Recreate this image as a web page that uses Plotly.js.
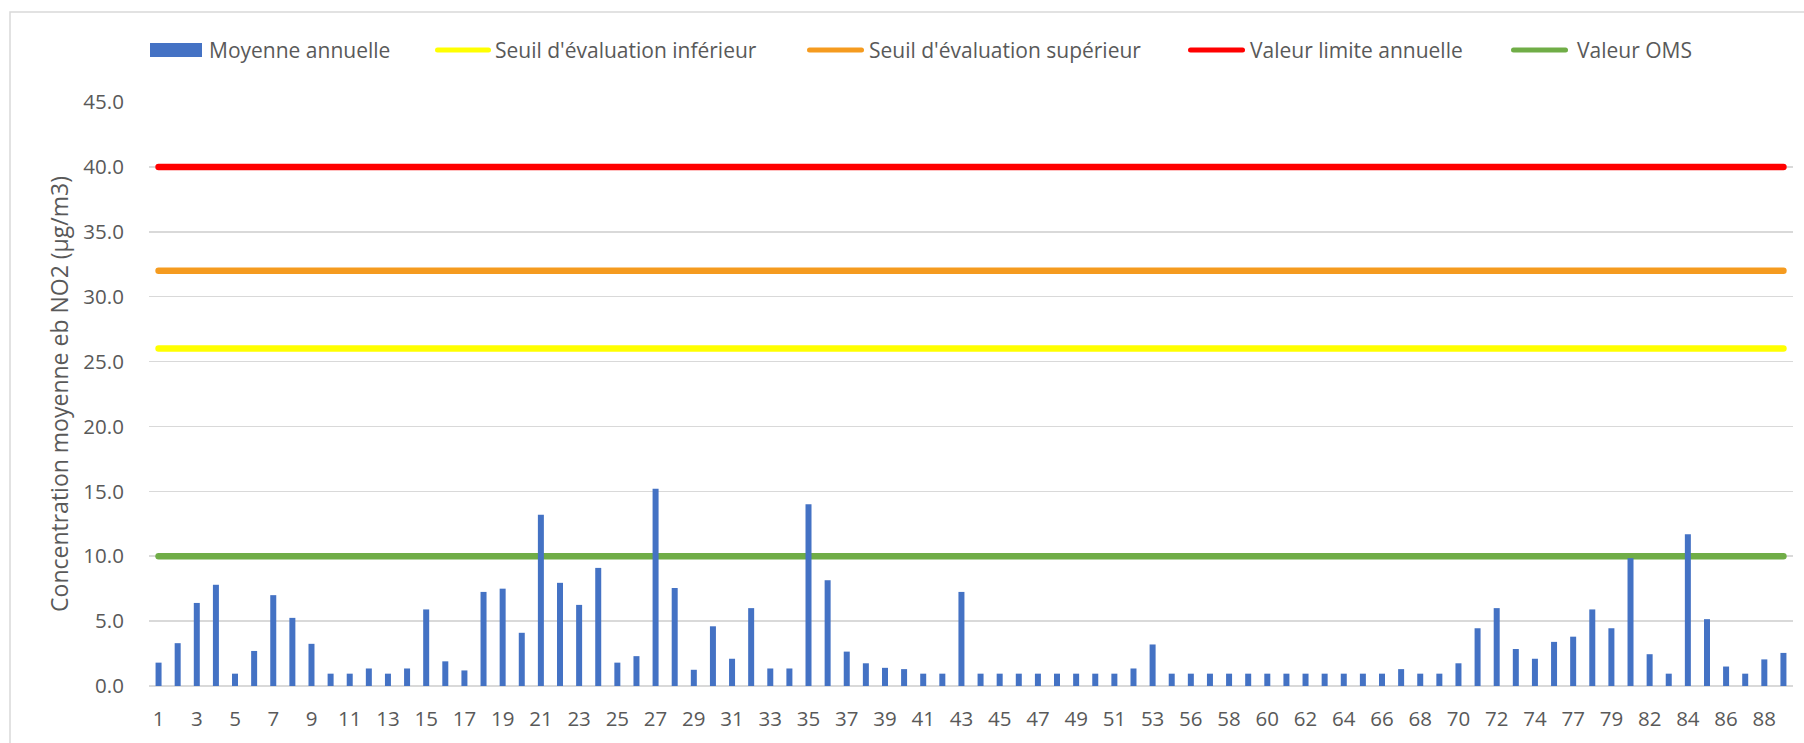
<!DOCTYPE html>
<html>
<head>
<meta charset="utf-8">
<script src="https://cdn.plot.ly/plotly-3.0.1.min.js"></script>
<style>
  html, body { margin: 0; padding: 0; background: #ffffff; }
  #chart { width: 1804px; height: 743px; }
  .js-line { stroke-linecap: round; }
  .shapelayer path { stroke-linecap: round; }
</style>
</head>
<body>
<div id="chart"></div>
<script>
// ---- Data ----
const categories = [
  '1','2','3','4','5','6','7','8','9','10','11','12','13','14','15','16','17','18','19','20',
  '21','22','23','24','25','26','27','28','29','30','31','32','33','34','35','36','37','38','39','40',
  '41','42','43','44','45','46','47','48','49','50','51','52','53','55','56','57','58','59','60','61',
  '62','63','64','65','66','67','68','69','70','71','72','73','74','76','77','78','79','81','82','83',
  '84','85','86','87','88','89'
];
const moyenneAnnuelle = [
  1.8, 3.3, 6.4, 7.8, 0.95, 2.7, 7.0, 5.25, 3.25, 0.95, 0.95, 1.35, 0.95, 1.35, 5.9, 1.9, 1.2, 7.25, 7.5, 4.1,
  13.2, 7.95, 6.25, 9.1, 1.8, 2.3, 15.2, 7.55, 1.25, 4.6, 2.1, 6.0, 1.35, 1.35, 14.0, 8.15, 2.65, 1.75, 1.4, 1.3,
  0.95, 0.95, 7.25, 0.95, 0.95, 0.95, 0.95, 0.95, 0.95, 0.95, 0.95, 1.35, 3.2, 0.95, 0.95, 0.95, 0.95, 0.95, 0.95, 0.95,
  0.95, 0.95, 0.95, 0.95, 0.95, 1.3, 0.95, 0.95, 1.75, 4.45, 6.0, 2.85, 2.1, 3.4, 3.8, 5.9, 4.45, 9.85, 2.45, 0.95,
  11.7, 5.15, 1.5, 0.95, 2.05, 2.55
];
const seriesNames = [
  'Moyenne annuelle',
  "Seuil d'évaluation inférieur",
  "Seuil d'évaluation supérieur",
  'Valeur limite annuelle',
  'Valeur OMS'
];
const seuilInferieur = 26;
const seuilSuperieur = 32;
const valeurLimite = 40;
const valeurOMS = 10;
const yTitle = 'Concentration moyenne eb NO2 (µg/m3)';

// ---- Styling ----
const W = 1804, H = 743;
const L = 149, R = 1793, T = 102, B = 686;
const fontFam = '"Open Sans", "DejaVu Sans", sans-serif';
const txtColor = '#595959';
const colors = ['#4472C4', '#FFFF00', '#F59B1F', '#FF0000', '#70AD47'];
const px = x => (x - L) / (R - L);
const py = y => (B - y) / (B - T);

const first = categories[0], last = categories[categories.length - 1];
const thresholds = [seuilInferieur, seuilSuperieur, valeurLimite, valeurOMS];

const traces = [];
thresholds.forEach((v, i) => {
  traces.push({
    type: 'scatter', mode: 'lines',
    x: [first, last], y: [v, v],
    name: seriesNames[i + 1],
    line: { color: colors[i + 1], width: 6.5 },
    xaxis: 'x', yaxis: 'y',
    showlegend: false, hoverinfo: 'skip'
  });
});
traces.push({
  type: 'bar',
  x: categories, y: moyenneAnnuelle,
  name: seriesNames[0],
  marker: { color: colors[0], line: { width: 0 } },
  xaxis: 'x2', yaxis: 'y2',
  showlegend: false
});

const nCat = categories.length;
const tickVals = categories.filter((c, i) => i % 2 === 0);

// custom legend
const legendSym = [[150, 202], [435, 491], [807, 864], [1188, 1245], [1511, 1568]];
const legendText = [207, 493, 867, 1248, 1575];
const legY = 50;
const shapes = [
  { type: 'rect', xref: 'paper', yref: 'paper',
    x0: px(10), x1: px(1830), y0: py(800), y1: py(12),
    line: { color: '#d9d9d9', width: 1.5 }, fillcolor: 'rgba(0,0,0,0)', layer: 'below' }
];
const annotations = [];
seriesNames.forEach((n, i) => {
  const [a, b] = legendSym[i];
  if (i === 0) {
    shapes.push({ type: 'rect', xref: 'paper', yref: 'paper',
      x0: px(a), x1: px(b), y0: py(legY + 7), y1: py(legY - 7),
      line: { width: 0 }, fillcolor: colors[0] });
  } else {
    shapes.push({ type: 'line', xref: 'paper', yref: 'paper',
      x0: px(a + 2.5), x1: px(b - 2.5), y0: py(legY), y1: py(legY),
      line: { color: colors[i], width: 5 } });
  }
  annotations.push({
    xref: 'paper', yref: 'paper', x: px(legendText[i]), y: py(legY),
    xanchor: 'left', yanchor: 'middle', showarrow: false,
    text: n, font: { family: fontFam, size: 21, color: txtColor }
  });
});

const layout = {
  width: W, height: H,
  margin: { l: L, r: W - R, t: T, b: H - B, pad: 0 },
  paper_bgcolor: '#ffffff', plot_bgcolor: 'rgba(0,0,0,0)',
  showlegend: false,
  bargap: 0.686,
  font: { family: fontFam, size: 20, color: txtColor },
  xaxis: {
    type: 'category', categoryorder: 'array', categoryarray: categories,
    range: [-0.5, nCat - 0.5], fixedrange: true,
    showgrid: false, zeroline: false, showline: false,
    tickmode: 'array', tickvals: tickVals, ticktext: tickVals,
    ticks: 'outside', ticklen: 14, tickcolor: 'rgba(0,0,0,0)',
    tickfont: { family: fontFam, size: 20.5, color: txtColor }
  },
  xaxis2: {
    type: 'category', categoryorder: 'array', categoryarray: categories,
    range: [-0.5, nCat - 0.5], overlaying: 'x', visible: false, fixedrange: true
  },
  yaxis: {
    range: [0, 45], dtick: 5, tick0: 0, tickformat: '.1f',
    showgrid: true, gridcolor: '#d9d9d9', gridwidth: 1.5,
    zeroline: true, zerolinecolor: '#d9d9d9', zerolinewidth: 1.5,
    showline: false,
    ticks: 'outside', ticklen: 20, tickcolor: 'rgba(0,0,0,0)',
    tickfont: { family: fontFam, size: 20.5, color: txtColor },
    title: { text: yTitle, standoff: 8, font: { family: fontFam, size: 23, color: txtColor } },
    fixedrange: true
  },
  yaxis2: {
    range: [0, 45], overlaying: 'y', visible: false, fixedrange: true
  },
  shapes: shapes,
  annotations: annotations
};

Plotly.newPlot('chart', traces, layout, { displayModeBar: false, staticPlot: true });
</script>
</body>
</html>
